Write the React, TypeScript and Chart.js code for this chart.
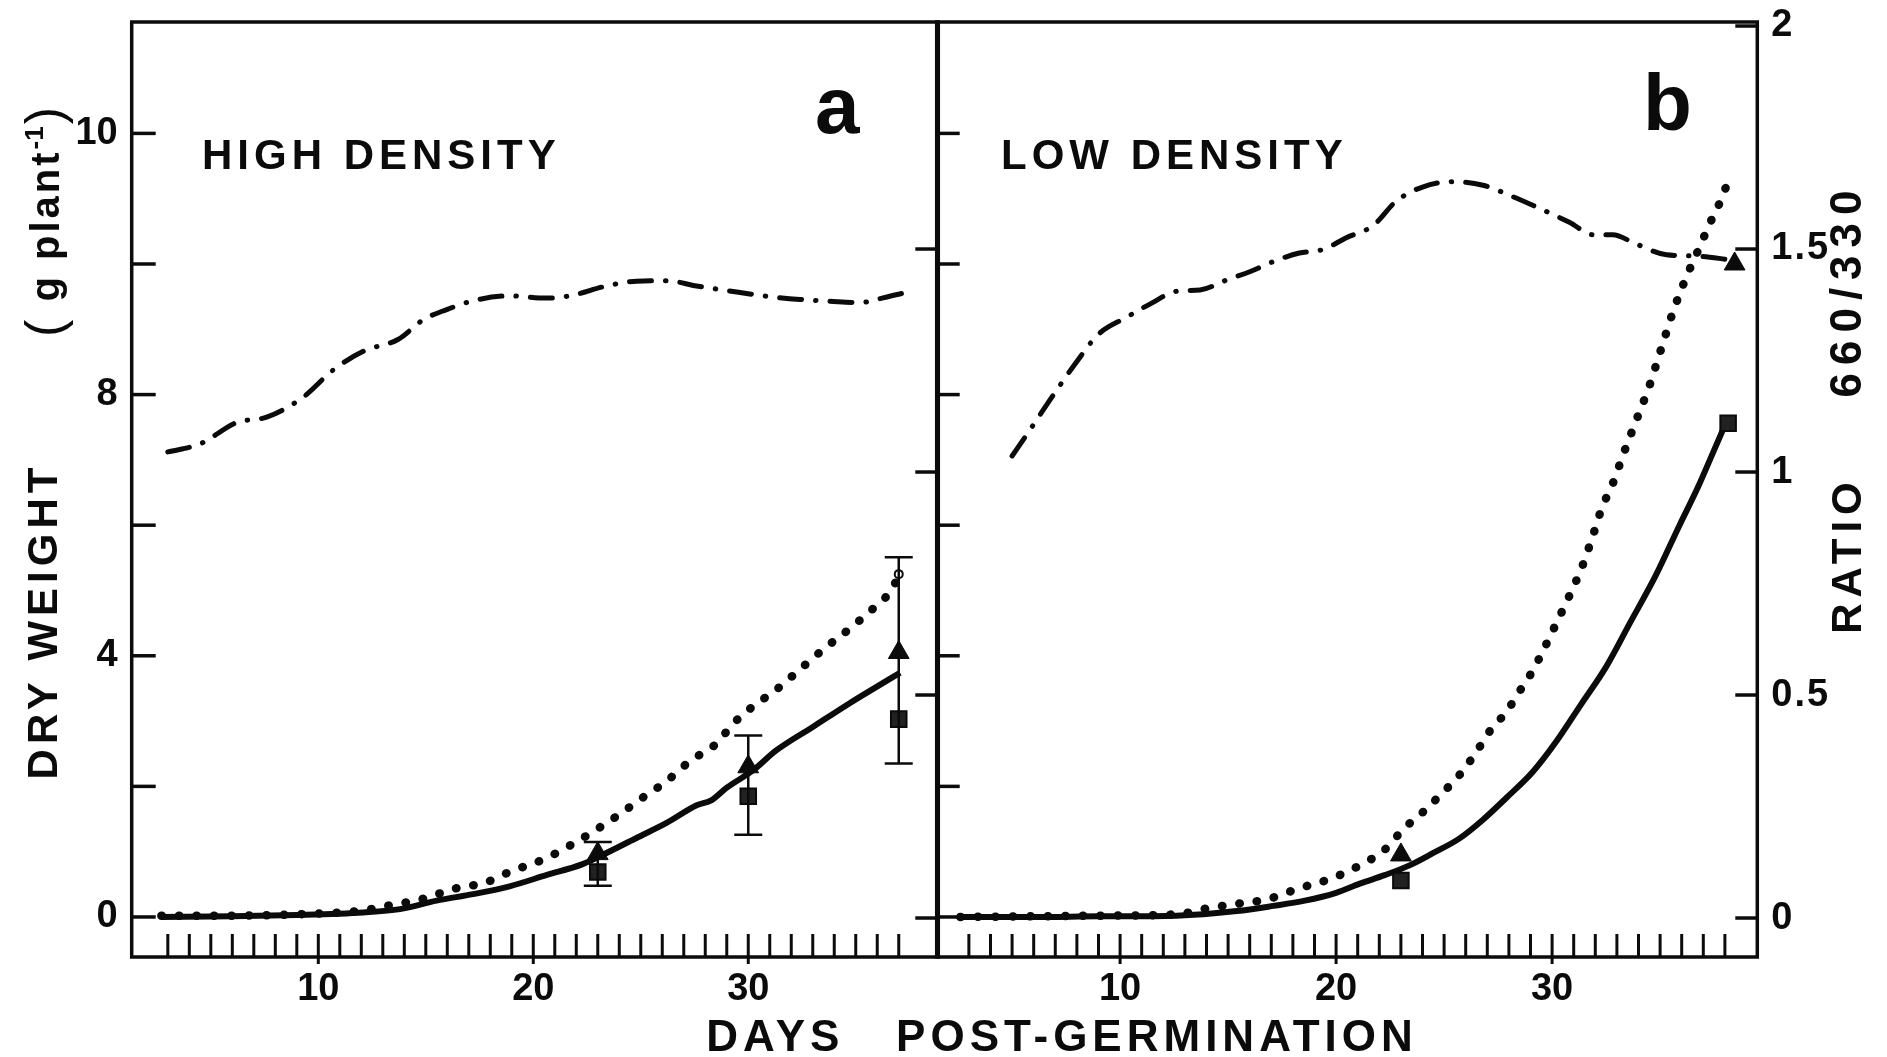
import React, { useEffect, useRef } from 'react';
import { Chart, registerables } from 'chart.js';

Chart.register(...registerables);

// ---------------- data ----------------
const xTickValues = [10, 20, 30];
const xTickLabels = ['10', '20', '30'];
const dryTickValues = [0, 2, 4, 6, 8, 10, 12];
const dryTickLabels = ['0', '', '4', '', '8', '', '10'];
const ratioTickValues = [0, 0.5, 1, 1.5, 2];
const ratioTickLabels = ['0', '0.5', '1', '1.5', '2'];
const ratioTicksPanelA = [0, 0.5, 1, 1.5];

const panelTitles = ['HIGH DENSITY', 'LOW DENSITY'];
const panelLetters = ['a', 'b'];
const xTitle = 'DAYS   POST-GERMINATION';
const yTitleMain = 'DRY WEIGHT';
const yTitleUnit = ['(', ' g plant', '-1', ')'];
const rTitleParts = ['RATIO', '660/330'];

// Panel a (high density)
const daysA_ratio = [3, 4.5, 6.2, 7.6, 9.3, 10.7, 12.1, 13.7, 14.9, 15.8, 17.2, 18.9, 20.6, 21.7, 23.4, 24.8, 26.2, 27.6, 29.0, 30.7, 32.4, 33.8, 35.2, 36.4, 37.2];
const ratioA = [1.045, 1.063, 1.111, 1.123, 1.168, 1.229, 1.271, 1.297, 1.342, 1.361, 1.384, 1.395, 1.39, 1.395, 1.417, 1.428, 1.429, 1.417, 1.407, 1.395, 1.387, 1.383, 1.38, 1.392, 1.401];

const daysA_dot = [2.7, 6, 9, 12.1, 13.2, 14.9, 16.3, 17.8, 18.9, 20.6, 22.0, 22.8, 24.0, 25.1, 26.2, 27.3, 28.5, 29.3, 30.2, 31.3, 32.4, 33.5, 34.7, 35.8, 36.6, 37.05];
const dotA = [0.02, 0.02, 0.04, 0.1, 0.17, 0.28, 0.43, 0.53, 0.69, 0.9, 1.15, 1.31, 1.57, 1.83, 2.08, 2.39, 2.65, 2.96, 3.22, 3.48, 3.79, 4.1, 4.41, 4.72, 4.98, 5.25];

const daysA_sol = [2.7, 6, 9, 12.1, 13.8, 15.5, 17.2, 18.9, 20.6, 22.3, 23.1, 24.8, 26.2, 27.6, 28.3, 29.0, 30.2, 31.3, 33.0, 34.7, 36.1, 37.06];
const solA = [0, 0.01, 0.03, 0.07, 0.12, 0.25, 0.35, 0.47, 0.64, 0.81, 0.93, 1.21, 1.44, 1.71, 1.79, 1.98, 2.24, 2.55, 2.91, 3.27, 3.55, 3.74];

const triDaysA = [23, 30, 37];
const triA = [0.97, 2.3, 4.05];
const sqDaysA = [23, 30, 37];
const sqA = [0.69, 1.85, 3.03];
const circDaysA = [37];
const circA = [5.25];
const errDaysA = [23, 30, 37];
const errLowA = [0.48, 1.26, 2.35];
const errHighA = [1.15, 2.78, 5.51];

// Panel b (low density)
const daysB_ratio = [5.0, 5.75, 6.9, 8.0, 9.0, 10.3, 11.4, 12.6, 13.7, 14.9, 16.0, 17.1, 18.3, 19.4, 20.5, 21.7, 22.8, 24.0, 25.4, 26.8, 28.2, 29.6, 30.8, 31.9, 32.8, 33.9, 35.3, 36.8, 38.2];
const ratioB = [1.036, 1.089, 1.172, 1.248, 1.309, 1.347, 1.377, 1.405, 1.408, 1.43, 1.449, 1.472, 1.491, 1.499, 1.526, 1.552, 1.608, 1.639, 1.651, 1.643, 1.617, 1.587, 1.56, 1.532, 1.532, 1.511, 1.487, 1.484, 1.476];

const daysB_dot = [2.6, 6, 9, 12.6, 14.0, 15.4, 16.8, 18.3, 19.7, 21.1, 22.25, 23.1, 24.0, 24.8, 25.7, 26.5, 27.1, 27.9, 28.5, 29.1, 29.6, 30.2, 30.8, 31.35, 31.9, 32.3, 32.8, 33.3, 33.9, 34.5, 35.05, 35.6, 36.2, 36.75, 37.3, 37.75, 38.1];
const dotB = [0, 0.01, 0.02, 0.04, 0.13, 0.2, 0.27, 0.44, 0.58, 0.79, 1.03, 1.34, 1.6, 1.86, 2.17, 2.53, 2.84, 3.15, 3.46, 3.77, 4.09, 4.5, 4.92, 5.33, 5.85, 6.26, 6.63, 7.09, 7.61, 8.13, 8.7, 9.27, 9.79, 10.2, 10.62, 10.93, 11.22];

const daysB_sol = [2.6, 6, 9, 12.6, 15.4, 17.1, 18.55, 20.0, 21.1, 22.25, 23.4, 24.5, 25.7, 26.8, 27.9, 29.1, 30.2, 31.35, 32.5, 33.6, 34.8, 35.9, 36.75, 37.5, 38.0];
const solB = [0, 0, 0.01, 0.02, 0.09, 0.17, 0.25, 0.37, 0.51, 0.64, 0.79, 0.98, 1.2, 1.49, 1.83, 2.22, 2.69, 3.26, 3.83, 4.5, 5.23, 6.0, 6.58, 7.15, 7.53];

const triDaysB = [23, 38.45];
const triB = [0.95, 10.0];
const sqDaysB = [23, 38.15];
const sqB = [0.56, 7.56];

// ---------------- layout / style ----------------
const W = 1887;
const H = 1057;
const INK = '#0b0b0b';
const FONT = '"Liberation Sans", Arial, Helvetica, sans-serif';
const PLOT_TOP = 22;
const PLOT_BOTTOM = 957;
const DRY_MIN = -0.613;
const DRY_MAX = 13.706;
const R_MIN = -0.0874;
const R_MAX = 2.009;

const PANEL = {
  a: { xMin: 1.32, xMax: 38.84, left: 131.7, right: 938.3, tickFrom: 3, tickTo: 37 },
  b: { xMin: 1.51, xMax: 39.5, left: 936.7, right: 1757.3, tickFrom: 3, tickTo: 38 },
};

const pts = (xs: number[], ys: number[]) => xs.map((x, i) => ({ x, y: ys[i] }));

function spacedText(ctx: CanvasRenderingContext2D, text: string, x: number, y: number, spacing: number) {
  (ctx as any).letterSpacing = `${spacing}px`;
  ctx.fillText(text, x, y);
  (ctx as any).letterSpacing = '0px';
}

function makePlugin(panel: 'a' | 'b') {
  return {
    id: 'paper' + panel,
    beforeDatasetsDraw(chart: any) {
      const { ctx, chartArea: ca, scales } = chart;
      const xs = scales.x, ys = scales.y, rs = scales.yr;
      const cfg = PANEL[panel];
      ctx.save();
      ctx.strokeStyle = INK;
      ctx.fillStyle = INK;
      ctx.lineCap = 'butt';
      ctx.lineWidth = 3.5;
      ctx.strokeRect(ca.left, ca.top, ca.right - ca.left, ca.bottom - ca.top);

      // bottom ticks (inward), decades extend outward
      ctx.lineWidth = 3;
      for (let d = cfg.tickFrom; d <= cfg.tickTo; d++) {
        const px = xs.getPixelForValue(d);
        ctx.beginPath();
        ctx.moveTo(px, ca.bottom - 23);
        ctx.lineTo(px, ca.bottom + (d % 10 === 0 ? 7 : 0));
        ctx.stroke();
      }
      ctx.font = `bold 38px ${FONT}`;
      ctx.textAlign = 'center';
      ctx.textBaseline = 'top';
      xTickValues.forEach((v, i) => {
        ctx.fillText(xTickLabels[i], xs.getPixelForValue(v), ca.bottom + 14);
      });

      ctx.lineWidth = 3.5;
      if (panel === 'a') {
        dryTickValues.forEach((v, i) => {
          const py = ys.getPixelForValue(v);
          ctx.beginPath();
          ctx.moveTo(ca.left, py);
          ctx.lineTo(ca.left + 24, py);
          ctx.stroke();
          if (dryTickLabels[i]) {
            ctx.textAlign = 'right';
            ctx.textBaseline = 'middle';
            ctx.fillText(dryTickLabels[i], ca.left - 14, py);
          }
        });
        ratioTicksPanelA.forEach((v) => {
          const py = rs.getPixelForValue(v);
          ctx.beginPath();
          ctx.moveTo(ca.right, py);
          ctx.lineTo(ca.right - 23, py);
          ctx.stroke();
        });
      } else {
        dryTickValues.forEach((v) => {
          const py = ys.getPixelForValue(v);
          ctx.beginPath();
          ctx.moveTo(ca.left, py);
          ctx.lineTo(ca.left + 23, py);
          ctx.stroke();
        });
        ratioTickValues.forEach((v, i) => {
          const py = rs.getPixelForValue(v);
          ctx.beginPath();
          ctx.moveTo(ca.right, py);
          ctx.lineTo(ca.right - 22, py);
          ctx.stroke();
          ctx.textAlign = 'left';
          ctx.textBaseline = 'middle';
          spacedText(ctx, ratioTickLabels[i], ca.right + 14, py, 2);
        });
      }
      ctx.restore();
    },
    afterDatasetsDraw(chart: any) {
      if (panel !== 'a') return;
      const { ctx, scales } = chart;
      const xs = scales.x, ys = scales.y;
      ctx.save();
      ctx.strokeStyle = INK;
      ctx.lineWidth = 2.5;
      errDaysA.forEach((d, i) => {
        const px = xs.getPixelForValue(d);
        const y1 = ys.getPixelForValue(errLowA[i]);
        const y2 = ys.getPixelForValue(errHighA[i]);
        ctx.beginPath();
        ctx.moveTo(px, y1);
        ctx.lineTo(px, y2);
        ctx.moveTo(px - 14, y1);
        ctx.lineTo(px + 14, y1);
        ctx.moveTo(px - 14, y2);
        ctx.lineTo(px + 14, y2);
        ctx.stroke();
      });
      ctx.restore();
    },
    afterDraw(chart: any) {
      const { ctx } = chart;
      ctx.save();
      ctx.fillStyle = INK;
      ctx.textAlign = 'left';
      ctx.textBaseline = 'alphabetic';
      if (panel === 'a') {
        ctx.font = `bold 42px ${FONT}`;
        spacedText(ctx, panelTitles[0], 202, 169, 5);
        ctx.font = `bold 80px ${FONT}`;
        ctx.fillText(panelLetters[0], 815, 133);
        // x title
        ctx.font = `bold 44px ${FONT}`;
        ctx.textAlign = 'center';
        spacedText(ctx, xTitle, 1062, 1051, 5);
        // y title (rotated)
        ctx.save();
        ctx.translate(45, 621);
        ctx.rotate(-Math.PI / 2);
        ctx.textAlign = 'center';
        ctx.textBaseline = 'middle';
        ctx.font = `bold 42px ${FONT}`;
        spacedText(ctx, yTitleMain, 0, 0, 5);
        ctx.restore();
        // unit "( g plant-1 )"
        ctx.save();
        ctx.translate(45, 222);
        ctx.rotate(-Math.PI / 2);
        ctx.textBaseline = 'alphabetic';
        ctx.textAlign = 'left';
        const fParen = `52px ${FONT}`;
        const fMain = `bold 40px ${FONT}`;
        const fSup = `bold 26px ${FONT}`;
        const fonts = [fParen, fMain, fSup, fParen];
        const widths = yTitleUnit.map((t, i) => {
          ctx.font = fonts[i];
          (ctx as any).letterSpacing = i === 1 ? '3px' : '0px';
          const w = ctx.measureText(t).width;
          (ctx as any).letterSpacing = '0px';
          return w;
        });
        const total = widths.reduce((s, w) => s + w, 0) + 6;
        let cx = -total / 2;
        yTitleUnit.forEach((t, i) => {
          ctx.font = fonts[i];
          const base = i === 2 ? -2 : (i === 1 ? 14 : 17);
          spacedText(ctx, t, cx, base, i === 1 ? 3 : 0);
          cx += widths[i] + (i === 0 ? 4 : i === 2 ? 2 : 0);
        });
        ctx.restore();
      } else {
        ctx.font = `bold 42px ${FONT}`;
        spacedText(ctx, panelTitles[1], 1001, 169, 5);
        ctx.font = `bold 80px ${FONT}`;
        ctx.fillText(panelLetters[1], 1643, 130);
        ctx.font = `bold 42px ${FONT}`;
        ctx.save();
        ctx.translate(1849, 555);
        ctx.rotate(-Math.PI / 2);
        ctx.textAlign = 'center';
        ctx.textBaseline = 'middle';
        spacedText(ctx, rTitleParts[0], 0, 0, 6);
        ctx.restore();
        ctx.save();
        ctx.translate(1849, 290);
        ctx.rotate(-Math.PI / 2);
        ctx.textAlign = 'center';
        ctx.textBaseline = 'middle';
        ctx.font = `bold 44px ${FONT}`;
        spacedText(ctx, rTitleParts[1], 0, 0, 8);
        ctx.restore();
      }
      ctx.restore();
    },
  };
}

const solidStyle = {
  borderColor: INK, borderWidth: 6, pointRadius: 0, fill: false,
  cubicInterpolationMode: 'monotone' as const, yAxisID: 'y',
};
const dottedStyle = {
  borderColor: INK, borderWidth: 8.5, pointRadius: 0, fill: false,
  borderDash: [0.5, 17], borderCapStyle: 'round' as const,
  cubicInterpolationMode: 'monotone' as const, yAxisID: 'y',
};
const dashDotStyle = {
  borderColor: INK, borderWidth: 5, pointRadius: 0, fill: false,
  borderDash: [22, 14, 0.5, 14], borderCapStyle: 'round' as const,
  cubicInterpolationMode: 'monotone' as const, yAxisID: 'yr',
};
const triStyle = {
  showLine: false, pointStyle: 'triangle' as const, pointRadius: 12,
  backgroundColor: INK, borderColor: INK, borderWidth: 1, yAxisID: 'y',
};
const sqStyle = {
  showLine: false, pointStyle: 'rect' as const, pointRadius: 11,
  backgroundColor: '#222', borderColor: INK, borderWidth: 2, yAxisID: 'y',
};
const circStyle = {
  showLine: false, pointStyle: 'circle' as const, pointRadius: 4,
  backgroundColor: '#fff', borderColor: INK, borderWidth: 2, yAxisID: 'y',
};

function buildConfig(panel: 'a' | 'b'): any {
  const cfg = PANEL[panel];
  const datasets =
    panel === 'a'
      ? [
          { ...circStyle, data: pts(circDaysA, circA) },
          { ...triStyle, data: pts(triDaysA, triA) },
          { ...sqStyle, data: pts(sqDaysA, sqA) },
          { ...solidStyle, data: pts(daysA_sol, solA) },
          { ...dottedStyle, data: pts(daysA_dot, dotA) },
          { ...dashDotStyle, data: pts(daysA_ratio, ratioA) },
        ]
      : [
          { ...triStyle, data: pts(triDaysB, triB) },
          { ...sqStyle, data: pts(sqDaysB, sqB) },
          { ...solidStyle, data: pts(daysB_sol, solB) },
          { ...dottedStyle, data: pts(daysB_dot, dotB) },
          { ...dashDotStyle, data: pts(daysB_ratio, ratioB) },
        ];
  return {
    type: 'line',
    data: { datasets },
    options: {
      responsive: false,
      animation: false,
      devicePixelRatio: 1,
      events: [],
      layout: {
        padding: { left: cfg.left, right: W - cfg.right, top: PLOT_TOP, bottom: H - PLOT_BOTTOM },
      },
      plugins: { legend: { display: false }, tooltip: { enabled: false }, title: { display: false } },
      scales: {
        x: { type: 'linear', axis: 'x', position: 'bottom', min: cfg.xMin, max: cfg.xMax, display: false },
        y: { type: 'linear', axis: 'y', position: 'left', min: DRY_MIN, max: DRY_MAX, display: false },
        yr: { type: 'linear', axis: 'y', position: 'right', min: R_MIN, max: R_MAX, display: false },
      },
    },
    plugins: [makePlugin(panel)],
  };
}

export default function App() {
  const refA = useRef<HTMLCanvasElement>(null);
  const refB = useRef<HTMLCanvasElement>(null);
  useEffect(() => {
    const a = new Chart(refA.current!, buildConfig('a'));
    const b = new Chart(refB.current!, buildConfig('b'));
    return () => {
      a.destroy();
      b.destroy();
    };
  }, []);
  const cs: React.CSSProperties = { position: 'absolute', left: 0, top: 0, width: W, height: H };
  return (
    <div style={{ position: 'fixed', left: 0, top: 0, width: W, height: H, background: '#fff', overflow: 'hidden' }}>
      <canvas ref={refA} width={W} height={H} style={cs} />
      <canvas ref={refB} width={W} height={H} style={cs} />
    </div>
  );
}
